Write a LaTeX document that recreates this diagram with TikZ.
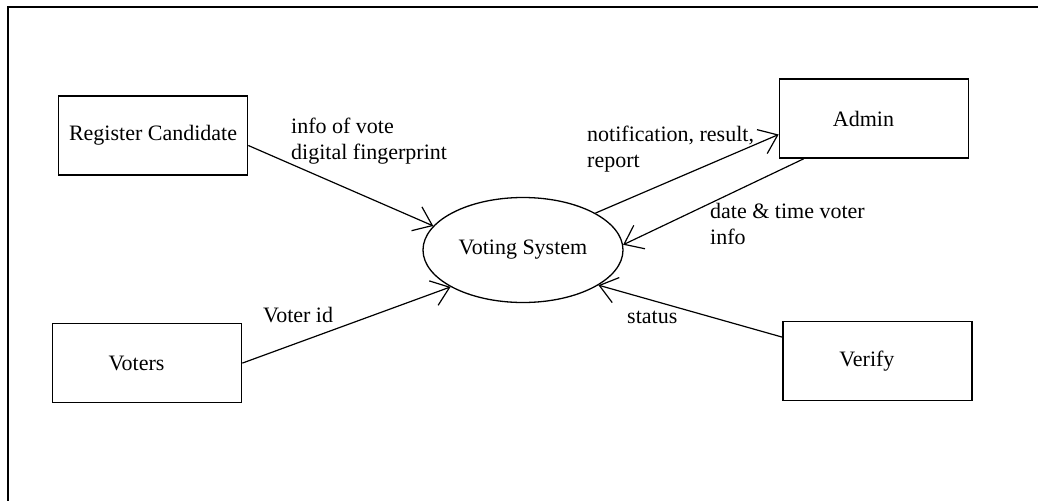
\documentclass[tikz,border=0pt]{standalone}
\usepackage{fontspec}
\setmainfont{Liberation Serif}
\usetikzlibrary{positioning,shapes.geometric,arrows.meta}

\begin{document}
\begin{tikzpicture}[
    x=1pt, y=-1pt, % Pixelraster
    every node/.style={font=\fontsize{22}{26}\selectfont}, % Schrift der Knoten
    entity/.style={draw, line width=1.6pt, minimum width=189pt, minimum height=79pt, inner sep=0pt}, % Stil der Kaesten
    leftish/.style={execute at end node={\hspace*{21pt}}}, % Text etwas nach links
    process/.style={draw, ellipse, line width=1.3pt, minimum width=200pt, minimum height=105pt, inner sep=0pt}, % Stil des Prozesses
    flow/.style={line width=1.2pt, -{Straight Barb[length=17pt,width=26pt]}}, % Stil der Pfeile
    flowlabel/.style={align=left, inner sep=0pt} % Stil der Pfeiltexte
]
\useasboundingbox (0,0) rectangle (1038,501);

% Rahmen
\draw[line width=2pt] (1038,7) -- (8,7) -- (8,501);

% Prozess-Knoten
\node[process] (sys) at (523,250) {Voting System};

% Kasten-Knoten
\node[entity] (reg) [left=174pt of sys, yshift=114.5pt] {Register Candidate};
\node[entity, leftish] (voters) [below=147pt of reg, xshift=-6pt] {Voters};
\node[entity, leftish] (admin) [right=155pt of sys, yshift=131.5pt] {Admin};
\node[entity, leftish] (verify) [below=162pt of admin, xshift=3.5pt] {Verify};

% Verbindungslinien
\draw[flow] ([yshift=-10pt]reg.east) -- (sys.165);
\draw[flow] (voters.east) -- (sys.207);
\draw[flow] (sys.27) -- ([yshift=-16pt]admin.west);
\draw[flow] ([xshift=25pt]admin.south west) -- (sys.3);
\draw[flow] ([yshift=24pt]verify.west) -- (sys.335);

% Pfeiltexte
\node[flowlabel, anchor=west] (infolbl) at (291,141) {info of vote\\digital fingerprint};
\node[flowlabel, anchor=west] (notelbl) at (587,149) {notification, result,\\report};
\node[flowlabel, anchor=west] (datelbl) at (710,224) {date \& time voter\\info};
\node[flowlabel, anchor=base west] (statuslbl) at (627,323) {status};
\node[flowlabel, anchor=base west] (idlbl) at (263,322) {Voter id};

\end{tikzpicture}
\end{document}
